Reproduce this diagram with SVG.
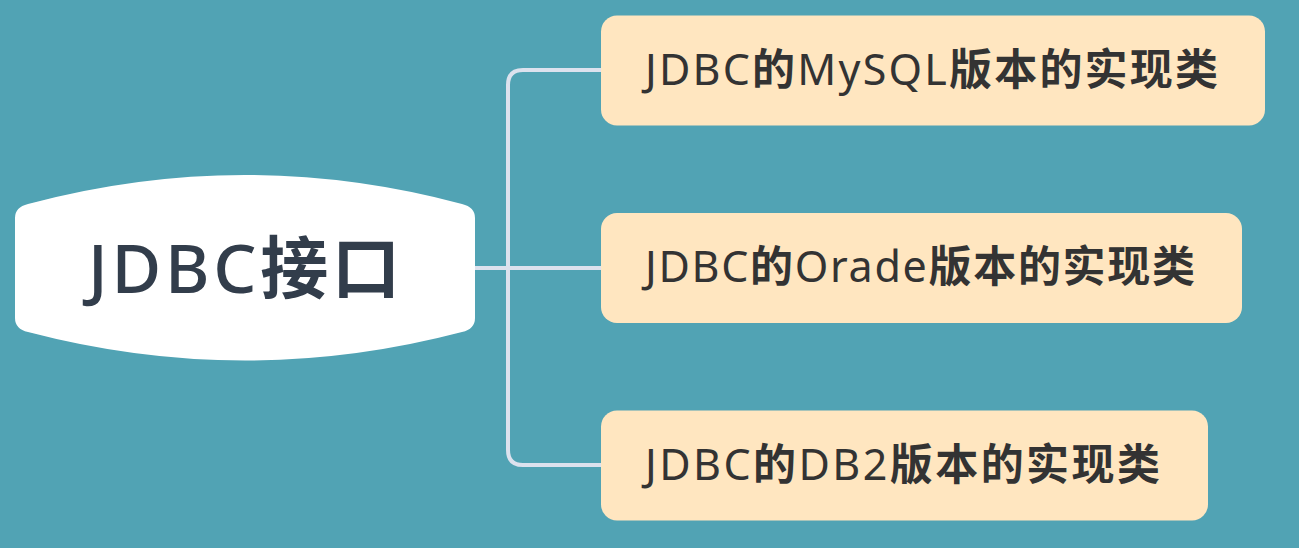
<svg xmlns="http://www.w3.org/2000/svg" width="1299" height="548" viewBox="0 0 1299 548">
<style>
.leaf{fill:#ffe6c0;}
.lt{font-family:"Noto Sans","Noto Sans CJK SC",sans-serif;font-size:43px;fill:#333333;}
.cj{font-weight:bold;}
.conn{fill:none;stroke:#dce2ee;stroke-width:4;stroke-linecap:round;}
.root{fill:#ffffff;}
.rt{font-family:"Noto Sans","Noto Sans CJK SC",sans-serif;font-size:68px;fill:#323d4b;font-weight:bold;}
</style>
<rect x="0" y="0" width="1299" height="548" fill="#51a3b4"/>
<g id="connectors">
<path class="conn" d="M475,268 H601"/>
<path class="conn" d="M508,268 V85 Q508,70 523,70 H601"/>
<path class="conn" d="M508,268 V450 Q508,465 523,465 H601"/>
</g>
<g id="root">
<path class="root" d="M15,218 Q15,207 28,204 Q245,146 462,204 Q475,207 475,218 V318 Q475,329 462,332 Q245,389 28,332 Q15,329 15,318 Z"/>
<text class="rt" x="88" y="293" textLength="312" lengthAdjust="spacing"><tspan font-weight="500">JDBC</tspan>接口</text>
</g>
<g id="mysql">
<rect class="leaf" x="601" y="15.5" width="664" height="110" rx="16"/>
<text class="lt" x="645" y="85" textLength="573" lengthAdjust="spacing">JDBC<tspan class="cj">的</tspan>MySQL<tspan class="cj">版本的实现类</tspan></text>
</g>
<g id="oracle">
<rect class="leaf" x="601" y="213" width="641" height="110" rx="16"/>
<text class="lt" x="645" y="282" textLength="550" lengthAdjust="spacing">JDBC<tspan class="cj">的</tspan>Orade<tspan class="cj">版本的实现类</tspan></text>
</g>
<g id="db2">
<rect class="leaf" x="601" y="410.5" width="607" height="110" rx="16"/>
<text class="lt" x="645" y="480" textLength="515" lengthAdjust="spacing">JDBC<tspan class="cj">的</tspan>DB2<tspan class="cj">版本的实现类</tspan></text>
</g>
</svg>
